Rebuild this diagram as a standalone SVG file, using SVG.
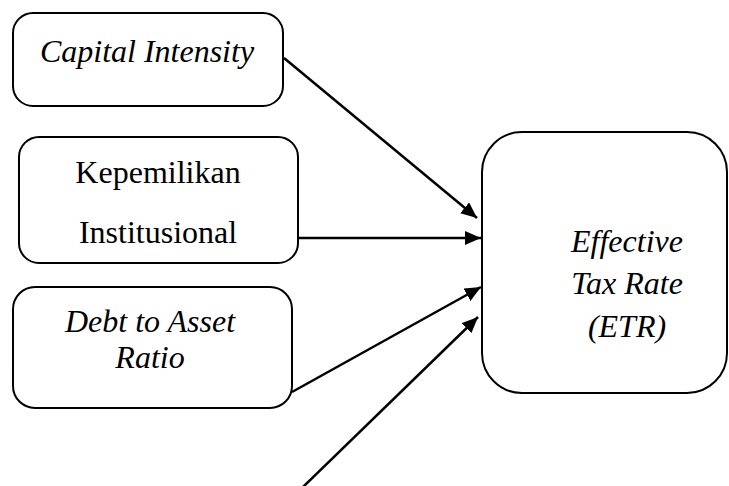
<svg xmlns="http://www.w3.org/2000/svg" width="729" height="486" viewBox="0 0 729 486">
  <style>
    .box { fill: #ffffff; stroke: #000000; stroke-width: 2; }
    .lbl { font-size: 32px; fill: #000000; text-anchor: middle; }
    .it { font-style: italic; }
    .edge { stroke: #000000; stroke-width: 2.5; fill: none; marker-end: url(#arrow); }
  </style>
  <defs>
    <marker id="arrow" markerUnits="userSpaceOnUse" markerWidth="17" markerHeight="15" refX="16" refY="7" orient="auto">
      <path d="M0,0 L16,7 L0,14 z" fill="#000000"/>
    </marker>
  </defs>
  <rect width="729" height="486" fill="#ffffff"/>

  <g id="node-capital-intensity">
    <rect class="box" x="13" y="13" width="270" height="93" rx="20" ry="20"/>
    <text class="lbl it" font-family="Liberation Serif, DejaVu Serif, serif" x="147" y="62">Capital Intensity</text>
  </g>

  <g id="node-kepemilikan-institusional">
    <rect class="box" x="19" y="137" width="279" height="126" rx="20" ry="20"/>
    <text class="lbl" font-family="Liberation Serif, DejaVu Serif, serif" x="158" y="183">Kepemilikan</text>
    <text class="lbl" font-family="Liberation Serif, DejaVu Serif, serif" x="158" y="243">Institusional</text>
  </g>

  <g id="node-debt-to-asset-ratio">
    <rect class="box" x="13" y="287" width="279" height="121" rx="22" ry="22"/>
    <text class="lbl it" font-family="Liberation Serif, DejaVu Serif, serif" x="150" y="332">Debt to Asset</text>
    <text class="lbl it" font-family="Liberation Serif, DejaVu Serif, serif" x="150" y="368">Ratio</text>
  </g>

  <g id="node-etr">
    <rect class="box" x="482" y="132" width="245" height="261" rx="40" ry="40"/>
    <text class="lbl it" font-family="Liberation Serif, DejaVu Serif, serif" x="627" y="252">Effective</text>
    <text class="lbl it" font-family="Liberation Serif, DejaVu Serif, serif" x="627" y="294">Tax Rate</text>
    <text class="lbl it" font-family="Liberation Serif, DejaVu Serif, serif" x="627" y="337">(ETR)</text>
  </g>

  <g id="connectors">
    <line class="edge" x1="284" y1="58" x2="477" y2="218"/>
    <line class="edge" x1="298" y1="238" x2="481" y2="238"/>
    <line class="edge" x1="292" y1="392" x2="481" y2="287"/>
    <line class="edge" x1="303" y1="487" x2="478" y2="317"/>
  </g>
</svg>
